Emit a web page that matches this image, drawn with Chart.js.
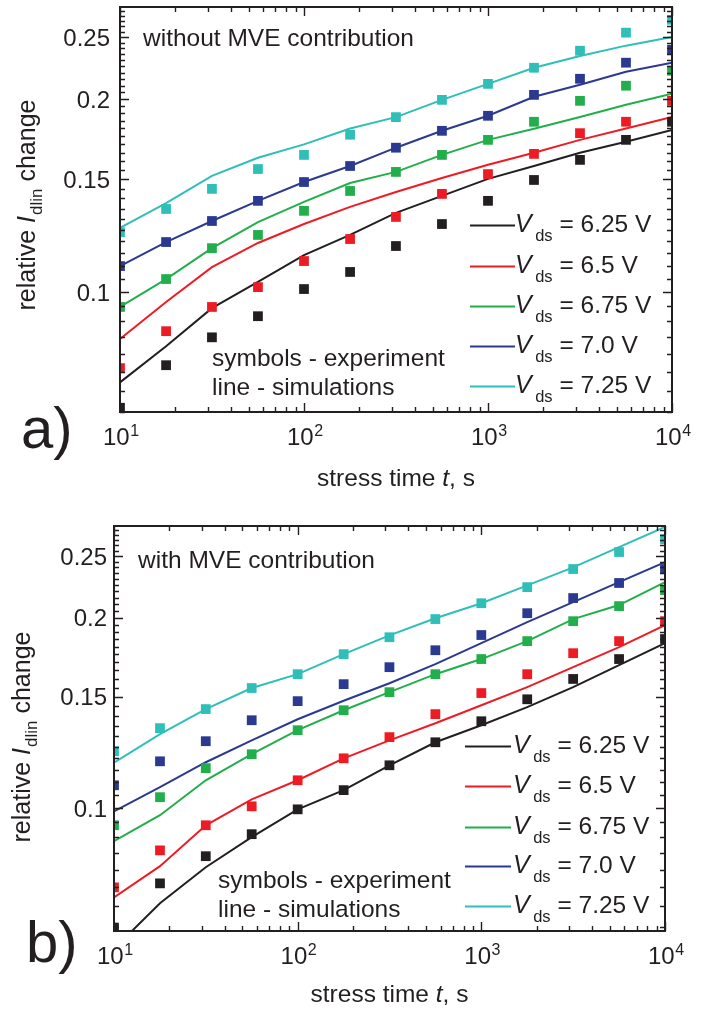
<!DOCTYPE html>
<html><head><meta charset="utf-8">
<script src="https://cdn.jsdelivr.net/npm/chart.js@4/dist/chart.umd.min.js"></script>
<style>
html,body{margin:0;padding:0;background:#fff;}
#wrap{position:relative;width:712px;height:1010px;overflow:hidden;}
canvas{position:absolute;left:0;}
</style></head><body>
<div id="wrap">
<canvas id="ca" width="712" height="505" style="top:0"></canvas>
<canvas id="cb" width="712" height="505" style="top:505px"></canvas>
</div>
<script>
// ---------- data ----------
const times = [10, 17.8, 31.6, 56.2, 100, 178, 316, 562, 1000, 1778, 3162, 5623, 10000];
const vdsLabels = ['6.25', '6.5', '6.75', '7.0', '7.25'];

// panel a) without MVE contribution – experiment (symbols)
const expA_625 = [0.066, 0.0769, 0.085, 0.0917, 0.1011, 0.1075, 0.118, 0.1277, 0.1388, 0.1496, 0.1608, 0.1728, 0.1844];
const expA_650 = [0.0761, 0.0869, 0.0948, 0.1018, 0.1118, 0.121, 0.131, 0.1423, 0.1528, 0.1643, 0.177, 0.1844, 0.1988];
const expA_675 = [0.0948, 0.1048, 0.1171, 0.1228, 0.1339, 0.1438, 0.154, 0.1637, 0.1728, 0.1844, 0.1988, 0.2099, 0.2215];
const expA_700 = [0.1098, 0.1197, 0.1291, 0.1388, 0.1485, 0.1573, 0.168, 0.1785, 0.1884, 0.2031, 0.2152, 0.228, 0.2388];
const expA_725 = [0.124, 0.1348, 0.1449, 0.1556, 0.1637, 0.176, 0.1875, 0.1995, 0.2113, 0.2239, 0.238, 0.254, 0.266];
// panel a) simulations (lines)
const simA_625 = [0.0723, 0.0823, 0.0944, 0.1037, 0.1142, 0.1228, 0.1329, 0.1413, 0.1502, 0.1573, 0.165, 0.1716, 0.179];
const simA_650 = [0.0845, 0.0965, 0.1094, 0.1193, 0.1277, 0.1358, 0.1433, 0.1507, 0.158, 0.165, 0.1728, 0.180, 0.1876];
const simA_675 = [0.0948, 0.1048, 0.1171, 0.1286, 0.1383, 0.148, 0.154, 0.1637, 0.1728, 0.1798, 0.1876, 0.196, 0.2039];
const simA_700 = [0.1098, 0.1197, 0.1291, 0.1388, 0.1485, 0.1573, 0.168, 0.1785, 0.1884, 0.2017, 0.2106, 0.2207, 0.228];
const simA_725 = [0.126, 0.1377, 0.1518, 0.162, 0.170, 0.180, 0.1875, 0.1995, 0.2113, 0.2239, 0.2336, 0.2424, 0.250];

// panel b) with MVE contribution – experiment (symbols)
const expB_625 = [0.0648, 0.0761, 0.084, 0.091, 0.0996, 0.1068, 0.1169, 0.1271, 0.1372, 0.1486, 0.16, 0.172, 0.185];
const expB_650 = [0.075, 0.0858, 0.094, 0.1007, 0.1107, 0.1199, 0.1295, 0.1408, 0.152, 0.1628, 0.1757, 0.1836, 0.1974];
const expB_675 = [0.094, 0.1041, 0.1157, 0.1217, 0.1328, 0.1428, 0.1525, 0.1628, 0.172, 0.1836, 0.1974, 0.2085, 0.221];
const expB_700 = [0.1087, 0.1186, 0.1276, 0.1377, 0.1476, 0.157, 0.167, 0.1776, 0.1877, 0.2032, 0.2147, 0.2268, 0.2386];
const expB_725 = [0.123, 0.1338, 0.1434, 0.1548, 0.1628, 0.1751, 0.1862, 0.1989, 0.2107, 0.2234, 0.2386, 0.2538, 0.266];
// panel b) simulations (lines)
const simB_625 = [0.060, 0.0708, 0.0807, 0.090, 0.0996, 0.1068, 0.1169, 0.1271, 0.1352, 0.1444, 0.1553, 0.1682, 0.1823];
const simB_650 = [0.0723, 0.081, 0.094, 0.1033, 0.1107, 0.1199, 0.128, 0.1362, 0.1454, 0.1553, 0.167, 0.1796, 0.1946];
const simB_675 = [0.0887, 0.0975, 0.1107, 0.1217, 0.1328, 0.1428, 0.1525, 0.1628, 0.172, 0.1836, 0.1989, 0.2093, 0.2275];
const simB_700 = [0.0989, 0.108, 0.1182, 0.128, 0.1382, 0.1478, 0.1575, 0.1689, 0.1823, 0.1967, 0.2115, 0.2275, 0.2447];
const simB_725 = [0.118, 0.1309, 0.1434, 0.1548, 0.1628, 0.1751, 0.1875, 0.1995, 0.2107, 0.2248, 0.240, 0.2583, 0.278];

// tick labels
const xTickValues = [10, 100, 1000, 10000];
const xTickBase = '10';
const xTickExponents = ['1', '2', '3', '4'];
const yTickValues = [0.1, 0.15, 0.2, 0.25];
const yTickLabels = ['0.1', '0.15', '0.2', '0.25'];
const yMinorStep = 0.005;

// texts
const xTitleRuns = ['stress time ', 't', ', s'];
const yTitleRuns = ['relative ', 'I', 'dlin', ' change'];
const noteA = 'without MVE contribution';
const noteB = 'with MVE contribution';
const symbolsText = ['symbols - experiment', 'line - simulations'];

// ---------- styles ----------
const colors = ['#231f20', '#ed1c24', '#22ae4b', '#2b3990', '#2fbfb8'];
const INK = '#231f20';
const FAM = '"Liberation Sans", Arial, Helvetica, sans-serif';

function runsWidth(ctx, runs) {
  let w = 0;
  for (const r of runs) { ctx.font = r.font; w += (r.dx || 0) + ctx.measureText(r.t).width; }
  return w;
}
function drawRuns(ctx, x, y, runs) {
  let cx = x;
  for (const r of runs) {
    ctx.font = r.font; cx += (r.dx || 0);
    ctx.fillText(r.t, cx, y + (r.dy || 0));
    cx += ctx.measureText(r.t).width;
  }
}

const deco = {
  id: 'deco',
  afterDraw(chart, args, L) {
    const ctx = chart.ctx, xs = chart.scales.x, ys = chart.scales.y, a = chart.chartArea;
    ctx.save();
    ctx.fillStyle = INK; ctx.strokeStyle = INK;
    ctx.textAlign = 'left'; ctx.textBaseline = 'alphabetic';
    // ticks
    ctx.lineWidth = 1.4;
    const xMinor = [];
    for (let k = 1; k < 4; k++) for (let m = 2; m <= 9; m++) xMinor.push(m * Math.pow(10, k));
    ctx.beginPath();
    for (const v of xMinor) {
      const p = Math.round(xs.getPixelForValue(v)) + 0.5;
      ctx.moveTo(p, a.bottom); ctx.lineTo(p, a.bottom - 5);
      ctx.moveTo(p, a.top); ctx.lineTo(p, a.top + 5);
    }
    for (const v of xTickValues) {
      const p = Math.round(xs.getPixelForValue(v)) + 0.5;
      ctx.moveTo(p, a.bottom); ctx.lineTo(p, a.bottom - 9);
      ctx.moveTo(p, a.top); ctx.lineTo(p, a.top + 9);
    }
    const yMin = ys.min, yMax = ys.max;
    for (let v = Math.ceil(yMin / yMinorStep - 1e-6) * yMinorStep; v <= yMax + 1e-9; v += yMinorStep) {
      const p = Math.round(ys.getPixelForValue(v)) + 0.5;
      const major = yTickValues.some(t => Math.abs(t - v) < 1e-6);
      const len = major ? 9 : 5;
      ctx.moveTo(a.left, p); ctx.lineTo(a.left + len, p);
      ctx.moveTo(a.right, p); ctx.lineTo(a.right - len, p);
    }
    ctx.stroke();
    // frame
    ctx.lineWidth = 2;
    ctx.strokeRect(a.left, a.top, a.right - a.left, a.bottom - a.top);

    // x tick labels
    xTickValues.forEach((v, i) => {
      const p = xs.getPixelForValue(v);
      const runs = [{ t: xTickBase, font: '24px ' + FAM }, { t: xTickExponents[i], font: '16px ' + FAM, dy: -9, dx: 0.5 }];
      const w = runsWidth(ctx, runs);
      drawRuns(ctx, p - w / 2 + 1, a.bottom + 33, runs);
    });
    // y tick labels
    ctx.textAlign = 'right';
    ctx.font = '24px ' + FAM;
    yTickValues.forEach((v, i) => {
      const p = ys.getPixelForValue(v);
      ctx.fillText(yTickLabels[i], L.yTickRight, p + 8.5);
    });
    ctx.textAlign = 'left';

    // x title
    const xr = [{ t: xTitleRuns[0], font: '24.5px ' + FAM }, { t: xTitleRuns[1], font: 'italic 24.5px ' + FAM }, { t: xTitleRuns[2], font: '24.5px ' + FAM }];
    const xw = runsWidth(ctx, xr);
    drawRuns(ctx, (a.left + a.right) / 2 - xw / 2, L.xTitleBase, xr);

    // y title (rotated)
    const yr = [{ t: yTitleRuns[0], font: '25px ' + FAM }, { t: yTitleRuns[1], font: 'italic 25px ' + FAM },
                { t: yTitleRuns[2], font: '17px ' + FAM, dy: 7, dx: 1 }, { t: yTitleRuns[3], font: '25px ' + FAM }];
    const yw = runsWidth(ctx, yr);
    ctx.save();
    ctx.translate(L.yTitleX, L.yTitleCenter);
    ctx.rotate(-Math.PI / 2);
    drawRuns(ctx, -yw / 2, 0, yr);
    ctx.restore();

    // note
    ctx.font = '24.5px ' + FAM;
    ctx.fillText(L.note, L.noteX, L.noteBase);
    ctx.fillText(symbolsText[0], L.symX, L.symBase[0]);
    ctx.fillText(symbolsText[1], L.symX, L.symBase[1]);

    // legend
    vdsLabels.forEach((lab, i) => {
      const b = L.legBase[i];
      ctx.strokeStyle = colors[i]; ctx.lineWidth = 2;
      ctx.beginPath(); ctx.moveTo(L.legLine[0], b - 6.5); ctx.lineTo(L.legLine[1], b - 6.5); ctx.stroke();
      const runs = [{ t: 'V', font: 'italic 25px ' + FAM }, { t: 'ds', font: '16.5px ' + FAM, dy: 9, dx: 3.5 },
                    { t: ' = ' + lab + ' V', font: '24.5px ' + FAM }];
      drawRuns(ctx, L.legText, b, runs);
    });

    // panel letter
    ctx.font = '58px ' + FAM;
    ctx.fillText(L.letter, L.letterX, L.letterBase);
    ctx.restore();
  }
};

function series(vals) { return times.map((t, j) => ({ x: t, y: vals[j] })); }

function makeChart(id, exp, sim, yMin, yMax, pad, L) {
  const datasets = [];
  sim.forEach((v, i) => datasets.push({
    label: 'simulation Vds = ' + vdsLabels[i] + ' V', data: series(v), borderColor: colors[i], borderWidth: 2,
    pointRadius: 0, pointHoverRadius: 0, tension: 0, fill: false, clip: 0, order: 2
  }));
  exp.forEach((v, i) => datasets.push({
    label: 'experiment Vds = ' + vdsLabels[i] + ' V', data: series(v), showLine: false,
    backgroundColor: colors[i], borderColor: colors[i], pointStyle: 'rect', pointRadius: 6.9,
    pointBorderWidth: 0, pointHoverRadius: 6.9, clip: 0, order: 1
  }));
  return new Chart(document.getElementById(id), {
    type: 'line',
    data: { datasets },
    options: {
      responsive: false, animation: false, devicePixelRatio: 1,
      layout: { padding: pad },
      plugins: { legend: { display: false }, tooltip: { enabled: false }, deco: L },
      events: [],
      scales: {
        x: { type: 'logarithmic', min: 10, max: 10000, display: false },
        y: { type: 'logarithmic', min: yMin, max: yMax, display: false }
      }
    },
    plugins: [deco]
  });
}

makeChart('ca',
  [expA_625, expA_650, expA_675, expA_700, expA_725],
  [simA_625, simA_650, simA_675, simA_700, simA_725],
  0.065, 0.2785,
  { left: 120, top: 7, right: 712 - 672, bottom: 505 - 412 },
  { yTickRight: 110, xTitleBase: 486, yTitleX: 35, yTitleCenter: 205,
    note: noteA, noteX: 143, noteBase: 46, symX: 212, symBase: [366, 395],
    legBase: [232, 273, 313, 353, 393], legLine: [470, 515], legText: 515,
    letter: 'a)', letterX: 21, letterBase: 448 });

makeChart('cb',
  [expB_625, expB_650, expB_675, expB_700, expB_725],
  [simB_625, simB_650, simB_675, simB_700, simB_725],
  0.064, 0.279,
  { left: 114, top: 21, right: 712 - 665, bottom: 505 - 426 },
  { yTickRight: 107, xTitleBase: 497, yTitleX: 30, yTitleCenter: 232,
    note: noteB, noteX: 138, noteBase: 63, symX: 218, symBase: [383, 412],
    legBase: [248, 288, 329, 368, 408], legLine: [465, 511], legText: 513,
    letter: 'b)', letterX: 26, letterBase: 457 });
</script>
</body></html>
